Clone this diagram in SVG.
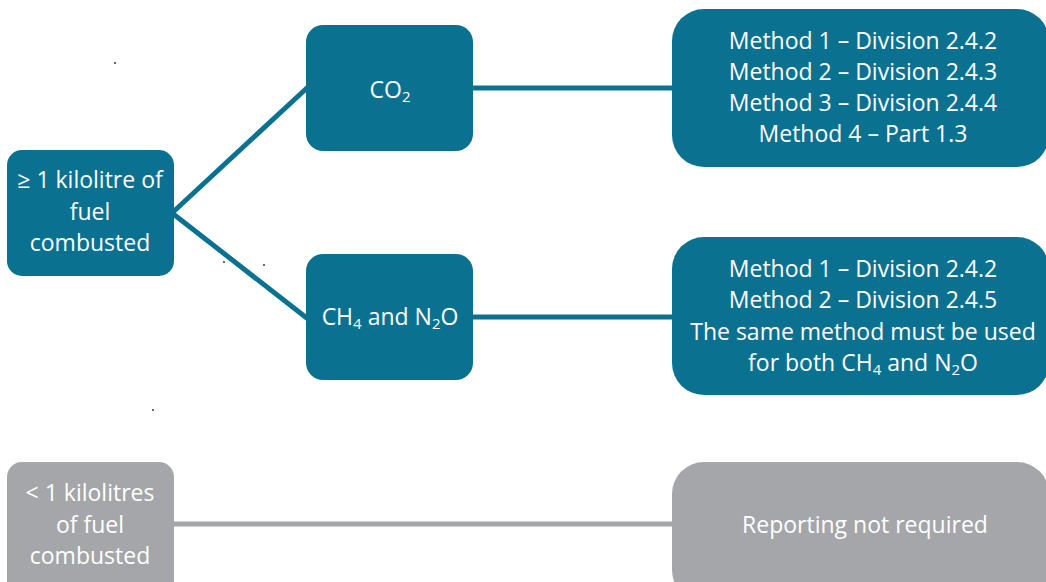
<svg xmlns="http://www.w3.org/2000/svg" width="1046" height="582" viewBox="0 0 1046 582">
<style>
.teal{fill:#0a7191}
.grey{fill:#a4a6a9}
.t{font-family:"Open Sans","Liberation Sans",sans-serif;font-size:23px;fill:#ffffff;text-anchor:middle}
.sub{font-size:15px}
.ct{stroke:#0a7191;stroke-width:5;fill:none}
.cg{stroke:#a4a6a9;stroke-width:5;fill:none}
</style>
<rect width="1046" height="582" fill="#ffffff"/>
<g id="connectors">
<path class="ct" d="M172 213 L308 87"/>
<path class="ct" d="M172 213 L308 319"/>
<path class="ct" d="M471 88 L674 88"/>
<path class="ct" d="M471 317 L674 317"/>
<path class="cg" d="M172 524 L674 524"/>
</g>
<g id="node-ge1">
<rect class="teal" x="7" y="150" width="167" height="126" rx="15"/>
<text class="t" x="90" y="188">≥ 1 kilolitre of</text>
<text class="t" x="90" y="220">fuel</text>
<text class="t" x="90" y="251">combusted</text>
</g>
<g id="node-co2">
<rect class="teal" x="306" y="25" width="167" height="126" rx="17"/>
<text class="t" x="390" y="98">CO<tspan class="sub" dy="4">2</tspan></text>
</g>
<g id="node-ch4">
<rect class="teal" x="306" y="254" width="167" height="126" rx="17"/>
<text class="t" x="390" y="325">CH<tspan class="sub" dy="4">4</tspan><tspan dy="-4"> and N</tspan><tspan class="sub" dy="4">2</tspan><tspan dy="-4">O</tspan></text>
</g>
<g id="node-co2-methods">
<rect class="teal" x="672" y="9" width="377" height="158" rx="32"/>
<text class="t" x="863" y="49">Method 1 – Division 2.4.2</text>
<text class="t" x="863" y="80">Method 2 – Division 2.4.3</text>
<text class="t" x="863" y="111">Method 3 – Division 2.4.4</text>
<text class="t" x="863" y="142">Method 4 – Part 1.3</text>
</g>
<g id="node-ch4-methods">
<rect class="teal" x="672" y="237" width="377" height="158" rx="32"/>
<text class="t" x="863" y="277">Method 1 – Division 2.4.2</text>
<text class="t" x="863" y="308">Method 2 – Division 2.4.5</text>
<text class="t" x="863" y="340">The same method must be used</text>
<text class="t" x="863" y="371">for both CH<tspan class="sub" dy="4">4</tspan><tspan dy="-4"> and N</tspan><tspan class="sub" dy="4">2</tspan><tspan dy="-4">O</tspan></text>
</g>
<g id="node-lt1">
<rect class="grey" x="7" y="462" width="167" height="140" rx="15"/>
<text class="t" x="90" y="501">&lt; 1 kilolitres</text>
<text class="t" x="90" y="533">of fuel</text>
<text class="t" x="90" y="564">combusted</text>
</g>
<g id="node-not-required">
<rect class="grey" x="672" y="462" width="377" height="140" rx="32"/>
<text class="t" x="865" y="533">Reporting not required</text>
</g>
<g id="dots" fill="#222">
<circle cx="115" cy="63" r="0.9"/>
<circle cx="224" cy="262" r="0.9"/>
<circle cx="264" cy="265" r="0.9"/>
<circle cx="153" cy="410" r="0.9"/>
</g>
</svg>
